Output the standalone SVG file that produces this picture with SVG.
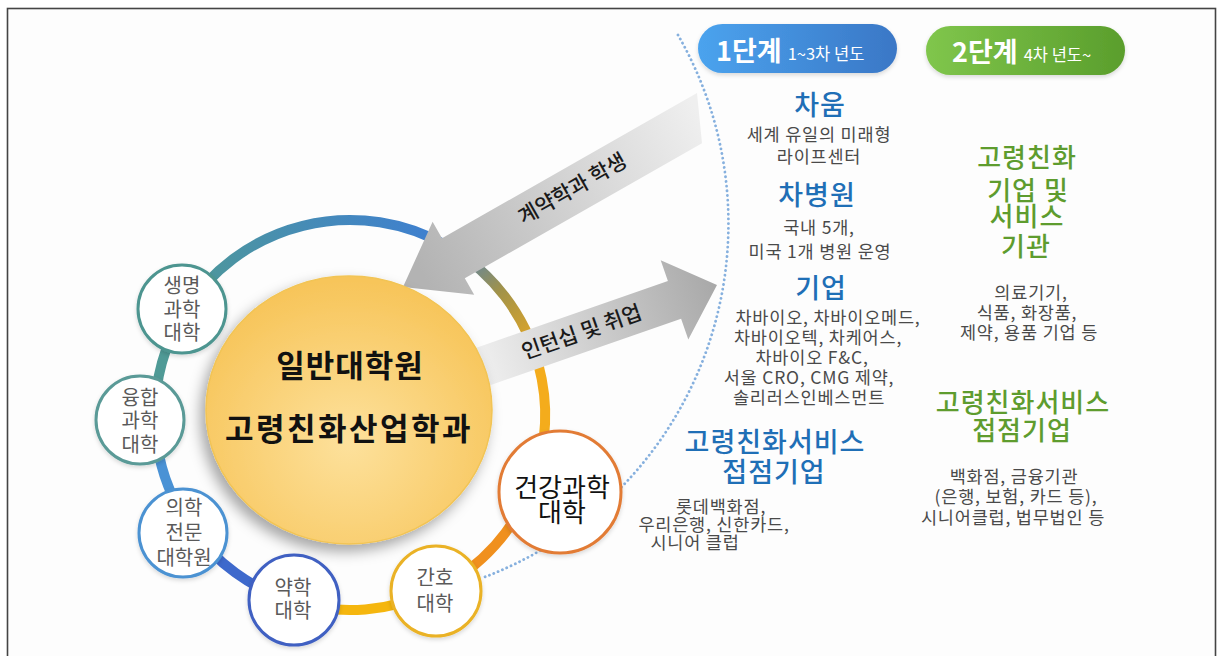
<svg xmlns="http://www.w3.org/2000/svg" width="1224" height="656" viewBox="0 0 1224 656">
<style>
text{font-family:"Noto Sans CJK KR","Noto Sans",sans-serif}
.sm{font-size:20px;fill:#5a5a5a;text-anchor:middle}
.body{font-size:17.5px;fill:#4a4a4a;text-anchor:middle;letter-spacing:0.8px}
.bt{font-size:27px;fill:#1f6fb6;text-anchor:middle;font-weight:500;letter-spacing:1px}
.gt{font-size:26px;fill:#5e9c2e;text-anchor:middle;font-weight:500;letter-spacing:1px}
.arrtxt{font-size:21px;fill:#1a1a1a;text-anchor:middle;font-weight:500}
.ring{fill:none;stroke-width:10}
.node{fill:#fff;stroke-width:3;filter:url(#sh2)}
</style>
<defs>
<filter id="sh" x="-30%" y="-30%" width="160%" height="160%"><feDropShadow dx="-5" dy="7" stdDeviation="7" flood-color="#000" flood-opacity="0.35"/></filter>
<filter id="sh2" x="-30%" y="-30%" width="160%" height="160%"><feDropShadow dx="0" dy="2" stdDeviation="2" flood-color="#000" flood-opacity="0.15"/></filter>
<radialGradient id="yel" cx="50%" cy="62%" r="60%"><stop offset="0" stop-color="#fde19c"/><stop offset="1" stop-color="#f7c55a"/></radialGradient>
<linearGradient id="a1" gradientUnits="userSpaceOnUse" x1="700" y1="118" x2="420" y2="270"><stop offset="0" stop-color="#efefef"/><stop offset="1" stop-color="#b3b3b3"/></linearGradient>
<linearGradient id="a2" gradientUnits="userSpaceOnUse" x1="480" y1="370" x2="717" y2="285"><stop offset="0" stop-color="#f0f0f0"/><stop offset="1" stop-color="#a8a8a8"/></linearGradient>
<linearGradient id="r2" gradientUnits="userSpaceOnUse" x1="180" y1="310" x2="440" y2="235"><stop offset="0" stop-color="#4f9a96"/><stop offset="1" stop-color="#3e7fd1"/></linearGradient>
<linearGradient id="r3" gradientUnits="userSpaceOnUse" x1="447" y1="246" x2="538" y2="364"><stop offset="0" stop-color="#3e7fd1"/><stop offset="0.45" stop-color="#a0924a"/><stop offset="1" stop-color="#f4ac1c"/></linearGradient>
<linearGradient id="p1" x1="0" y1="0" x2="1" y2="0"><stop offset="0" stop-color="#4ba3ee"/><stop offset="1" stop-color="#3a77c6"/></linearGradient>
<linearGradient id="p2" x1="0" y1="0" x2="1" y2="0"><stop offset="0" stop-color="#80c64c"/><stop offset="1" stop-color="#5a9e2c"/></linearGradient>
</defs>
<rect x="0" y="0" width="1224" height="656" fill="#ffffff"/>
<rect x="7.5" y="8.5" width="1208" height="700" fill="#fdfdfd" stroke="#444" stroke-width="1.6"/>

<g id="connectors">
<path d="M 678 35 A 378 378 0 0 1 482 578" fill="none" stroke="#86b0de" stroke-width="2.8" stroke-linecap="round" stroke-dasharray="0.1 4.6"/>
<path class="ring" stroke="#4f9a96" d="M 155 418.4 A 195 195 0 0 1 184.6 311.7"/>
<path class="ring" stroke="url(#r2)" d="M 184.6 311.7 A 195 195 0 0 1 447.5 246.1"/>
<path class="ring" stroke="url(#r3)" d="M 447.5 246.1 A 195 195 0 0 1 538.4 364.5"/>
<path class="ring" stroke="#f4ac1c" d="M 538.4 364.5 A 195 195 0 0 1 533.2 481.7"/>
<path class="ring" stroke="#f0901e" d="M 533.2 481.7 A 195 195 0 0 1 435.5 590.3"/>
<path class="ring" stroke="#f5b60e" d="M 435.5 590.3 A 195 195 0 0 1 293 601.5"/>
<path class="ring" stroke="#3e69cc" d="M 293 601.5 A 195 195 0 0 1 190.3 526.9"/>
<path class="ring" stroke="#4a92d5" d="M 190.3 526.9 A 195 195 0 0 1 155 418.4"/>
<g id="arrow-contract">
<polygon points="697,93 442,238.3 432.6,221.8 403,287 474.2,294.8 464.8,278.3 702,143.2" fill="url(#a1)"/>
<text class="arrtxt" transform="translate(576,195) rotate(-29.7)">계약학과 학생</text>
</g>
<g id="arrow-intern">
<polygon points="470,349.9 667.9,280.9 660.7,260.2 717,285 688.3,339.4 681.1,318.7 470,392.3" fill="url(#a2)"/>
<text class="arrtxt" transform="translate(584,339) rotate(-19.2)">인턴십 및 취업</text>
</g>
</g>

<g id="center">
<ellipse cx="349" cy="410" rx="143" ry="134" fill="url(#yel)" stroke="#f2c454" stroke-width="1.5" filter="url(#sh)"/>
<text x="350" y="377" font-size="31" font-weight="bold" fill="#111" text-anchor="middle" letter-spacing="1">일반대학원</text>
<text x="349" y="440" font-size="31" font-weight="bold" fill="#111" text-anchor="middle" letter-spacing="2.5">고령친화산업학과</text>
</g>

<g id="n-life"><circle class="node" cx="182" cy="309" r="44" stroke="#4d9590"/>
<text class="sm" x="182" y="293">생명</text><text class="sm" x="182" y="317">과학</text><text class="sm" x="182" y="340">대학</text></g>
<g id="n-conv"><circle class="node" cx="140" cy="420" r="44" stroke="#5a9a97"/>
<text class="sm" x="140" y="404.5">융합</text><text class="sm" x="140" y="428">과학</text><text class="sm" x="140" y="452">대학</text></g>
<g id="n-med"><circle class="node" cx="183" cy="533" r="44" stroke="#4c92d2"/>
<text class="sm" x="184" y="514.5">의학</text><text class="sm" x="184" y="540">전문</text><text class="sm" x="184" y="564.5">대학원</text></g>
<g id="n-pharm"><circle class="node" cx="294" cy="600" r="45" stroke="#4061c2"/>
<text class="sm" x="293" y="594.5">약학</text><text class="sm" x="293" y="618">대학</text></g>
<g id="n-nurse"><circle class="node" cx="436" cy="591" r="45" stroke="#eab225"/>
<text class="sm" x="435" y="584.5">간호</text><text class="sm" x="435" y="610.5">대학</text></g>
<g id="n-health"><circle class="node" cx="560" cy="492" r="61" stroke="#e27b36"/>
<text x="562" y="497" font-size="26" fill="#111" text-anchor="middle">건강과학</text><text x="562" y="522" font-size="26" fill="#111" text-anchor="middle">대학</text></g>

<g id="stage1">
<rect x="698" y="24" width="199" height="49" rx="24.5" fill="url(#p1)" filter="url(#sh2)"/>
<text x="716" y="61" fill="#fff" font-size="27" font-weight="bold">1단계<tspan font-size="16.5" font-weight="400" dx="6" dy="-1">1~3차 년도</tspan></text>
</g>
<g id="stage2">
<rect x="926" y="26" width="199" height="49" rx="24.5" fill="url(#p2)" filter="url(#sh2)"/>
<text x="952" y="62" fill="#fff" font-size="27" font-weight="bold">2단계<tspan font-size="16.5" font-weight="400" dx="6" dy="-1">4차 년도~</tspan></text>
</g>

<g id="chaum">
<text class="bt" x="820" y="115">차움</text>
<text class="body" x="819" y="141">세계 유일의 미래형</text>
<text class="body" x="819" y="163">라이프센터</text>
</g>
<g id="hospital">
<text class="bt" x="817" y="205">차병원</text>
<text class="body" x="819" y="234">국내 5개,</text>
<text class="body" x="820" y="258">미국 1개 병원 운영</text>
</g>
<g id="company">
<text class="bt" x="821" y="298">기업</text>
<text class="body" x="828" y="324">차바이오, 차바이오메드,</text>
<text class="body" x="818" y="344">차바이오텍, 차케어스,</text>
<text class="body" x="812" y="364">차바이오 F&amp;C,</text>
<text class="body" x="809" y="384">서울 CRO, CMG 제약,</text>
<text class="body" x="809" y="404">솔리러스인베스먼트</text>
</g>
<g id="service1">
<text class="bt" x="775" y="452">고령친화서비스</text>
<text class="bt" x="774" y="482">접점기업</text>
<text class="body" x="721" y="513">롯데백화점,</text>
<text class="body" x="714" y="531">우리은행, 신한카드,</text>
<text class="body" x="695" y="549">시니어 클럽</text>
</g>
<g id="aging-org">
<text class="gt" x="1027" y="167">고령친화</text>
<text class="gt" x="1028" y="200">기업 및</text>
<text class="gt" x="1027" y="226">서비스</text>
<text class="gt" x="1026" y="256">기관</text>
<text class="body" x="1031" y="299">의료기기,</text>
<text class="body" x="1027" y="319">식품, 화장품,</text>
<text class="body" x="1029" y="339">제약, 용품 기업 등</text>
</g>
<g id="service2">
<text class="gt" x="1023" y="412" font-size="27">고령친화서비스</text>
<text class="gt" x="1022" y="440" font-size="27">접점기업</text>
<text class="body" x="1014" y="483">백화점, 금융기관</text>
<text class="body" x="1016" y="503">(은행, 보험, 카드 등),</text>
<text class="body" x="1013" y="524">시니어클럽, 법무법인 등</text>
</g>
</svg>
